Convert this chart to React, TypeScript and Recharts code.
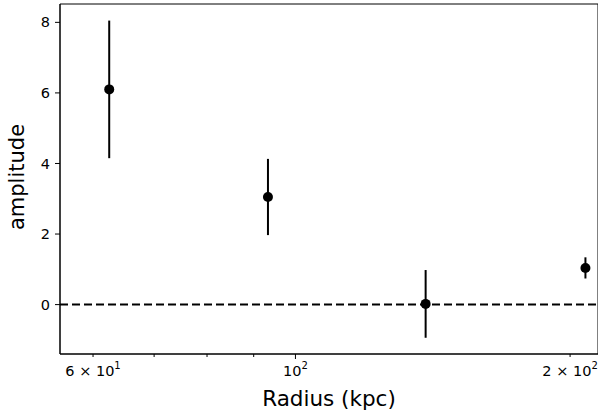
import React from 'react';
import {
  ScatterChart,
  Scatter,
  XAxis,
  YAxis,
  ErrorBar,
  ReferenceLine,
  ReferenceArea,
} from 'recharts';

const radius = [62.5, 93.3, 138.9, 207.9];
const amplitude = [6.1, 3.05, 0.02, 1.04];
const amplitudeErr = [1.95, 1.08, 0.96, 0.3];

const xTicks = [60, 70, 80, 90, 100, 200];
const xTickLabels: Record<number, [string, string]> = {
  60: ['6 × 10', '1'],
  100: ['10', '2'],
  200: ['2 × 10', '2'],
};
const yTicks = [0, 2, 4, 6, 8];

const X_DOMAIN: [number, number] = [55.2, 214.6];
const Y_DOMAIN: [number, number] = [-1.4, 8.52];

const data = radius.map((r, i) => ({
  x: r,
  y: amplitude[i],
  err: [amplitudeErr[i], amplitudeErr[i]],
}));

const FONT = '"DejaVu Sans", sans-serif';

const XTick = (props: any) => {
  const { x, y, payload } = props;
  const v = payload.value;
  const label = xTickLabels[v];
  const len = v === 100 ? 5 : 3;
  return (
    <g>
      <line x1={x} x2={x} y1={y} y2={y + len} stroke="#000" strokeWidth={1} />
      {label && (
        <text x={x} y={376} textAnchor="middle" fontSize={14.5} fontFamily={FONT} fill="#000">
          <tspan>{label[0]}</tspan>
          <tspan dy={-7} fontSize={10}>{label[1]}</tspan>
        </text>
      )}
    </g>
  );
};

const Dot = (props: any) => <circle cx={props.cx} cy={props.cy} r={5} fill="#000" />;

export default function App() {
  return (
    <div style={{ position: 'absolute', left: 0, top: 0, width: 598, height: 413, overflow: 'hidden', background: '#fff' }}>
      <ScatterChart width={620} height={413} margin={{ top: 4, right: 22, bottom: 0, left: 0 }}>
        <XAxis
          type="number"
          dataKey="x"
          scale="log"
          domain={X_DOMAIN}
          allowDataOverflow
          ticks={xTicks}
          interval={0}
          tick={<XTick />}
          tickLine={false}
          tickSize={0}
          tickMargin={0}
          height={59}
          axisLine={{ stroke: '#000', strokeWidth: 1 }}
          label={{ value: 'Radius (kpc)', position: 'insideBottom', offset: 7, fontSize: 21.5, fontFamily: FONT, fill: '#000' }}
        />
        <YAxis
          type="number"
          dataKey="y"
          domain={Y_DOMAIN}
          allowDataOverflow
          ticks={yTicks}
          interval={0}
          width={60}
          tickSize={5}
          tickMargin={5}
          tick={{ fontSize: 14.5, fontFamily: FONT, fill: '#000' }}
          tickLine={{ stroke: '#000' }}
          axisLine={{ stroke: '#000', strokeWidth: 1 }}
          label={(p: any) => (
            <text x={24} y={177} transform="rotate(-90, 24, 177)" textAnchor="middle" fontSize={21} fontFamily={FONT} fill="#000">
              amplitude
            </text>
          )}
        />
        <ReferenceArea x1={X_DOMAIN[0]} x2={X_DOMAIN[1]} y1={Y_DOMAIN[0]} y2={Y_DOMAIN[1]} fill="none" stroke="#000" strokeWidth={1} ifOverflow="visible" />
        <ReferenceLine y={0} stroke="#000" strokeWidth={2} strokeDasharray="8 4" />
        <Scatter data={data} shape={<Dot />} isAnimationActive={false}>
          <ErrorBar dataKey="err" direction="y" width={0} stroke="#000" strokeWidth={2} isAnimationActive={false} />
        </Scatter>
      </ScatterChart>
    </div>
  );
}
